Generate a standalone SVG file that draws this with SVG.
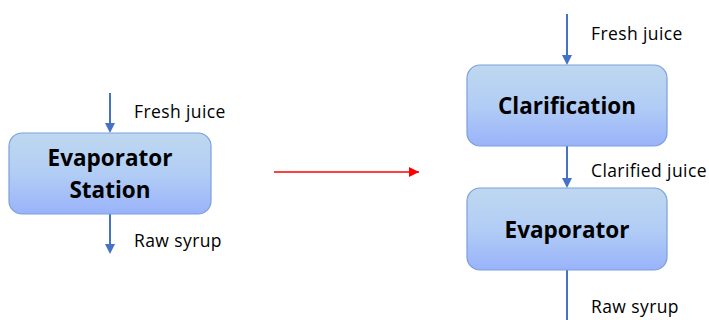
<svg xmlns="http://www.w3.org/2000/svg" width="709" height="320" viewBox="0 0 709 320">
<defs>
<linearGradient id="g" x1="0" y1="0" x2="0" y2="1">
<stop offset="0" stop-color="#bed8f0"/>
<stop offset="0.5" stop-color="#b2cdf5"/>
<stop offset="1" stop-color="#99b3fa"/>
</linearGradient>
<marker id="ar" viewBox="0 0 10 10" refX="10" refY="5" markerWidth="10" markerHeight="10" orient="auto" markerUnits="userSpaceOnUse">
<path d="M0,0 L10,5 L0,10 z" fill="#ff0000"/>
</marker>
<style>
.box{fill:url(#g);stroke:#7c9fdc;stroke-width:1.2}
.t{font-family:"Open Sans","Liberation Sans",sans-serif;font-weight:bold;font-size:22.5px;fill:#000;text-anchor:middle}
.l{font-family:"Open Sans","Liberation Sans",sans-serif;font-size:17.5px;letter-spacing:0.4px;fill:#000}
.c{stroke:#4472c4;stroke-width:2;fill:none}
</style>
</defs>
<g id="connectors">
<line class="c" x1="110" y1="93" x2="110" y2="126"/>
<line class="c" x1="110" y1="214" x2="110" y2="246"/>
<line class="c" x1="567" y1="14" x2="567" y2="58"/>
<line class="c" x1="567" y1="146" x2="567" y2="181"/>
<line class="c" x1="567" y1="270" x2="567" y2="320"/>
<line x1="274" y1="172" x2="419" y2="172" stroke="#ff0000" stroke-width="1.5" marker-end="url(#ar)"/>
<g fill="#4472c4">
<path d="M105,123 L115,123 L110,133 z"/>
<path d="M105,244 L115,244 L110,254 z"/>
<path d="M562,55 L572,55 L567,65 z"/>
<path d="M562,178 L572,178 L567,188 z"/>
</g>
</g>
<g id="evaporator-station">
<rect class="box" x="9" y="133" width="202" height="81" rx="13"/>
<text class="t" x="110" y="166">Evaporator</text>
<text class="t" x="110" y="198">Station</text>
</g>
<g id="clarification">
<rect class="box" x="467" y="65" width="200" height="81" rx="13"/>
<text class="t" x="567" y="114">Clarification</text>
</g>
<g id="evaporator">
<rect class="box" x="467" y="188" width="200" height="82" rx="13"/>
<text class="t" x="567" y="238">Evaporator</text>
</g>
<g id="labels">
<text class="l" x="134" y="118">Fresh juice</text>
<text class="l" x="134" y="247">Raw syrup</text>
<text class="l" x="591" y="40">Fresh juice</text>
<text class="l" x="591" y="177">Clarified juice</text>
<text class="l" x="591" y="313">Raw syrup</text>
</g>
</svg>
